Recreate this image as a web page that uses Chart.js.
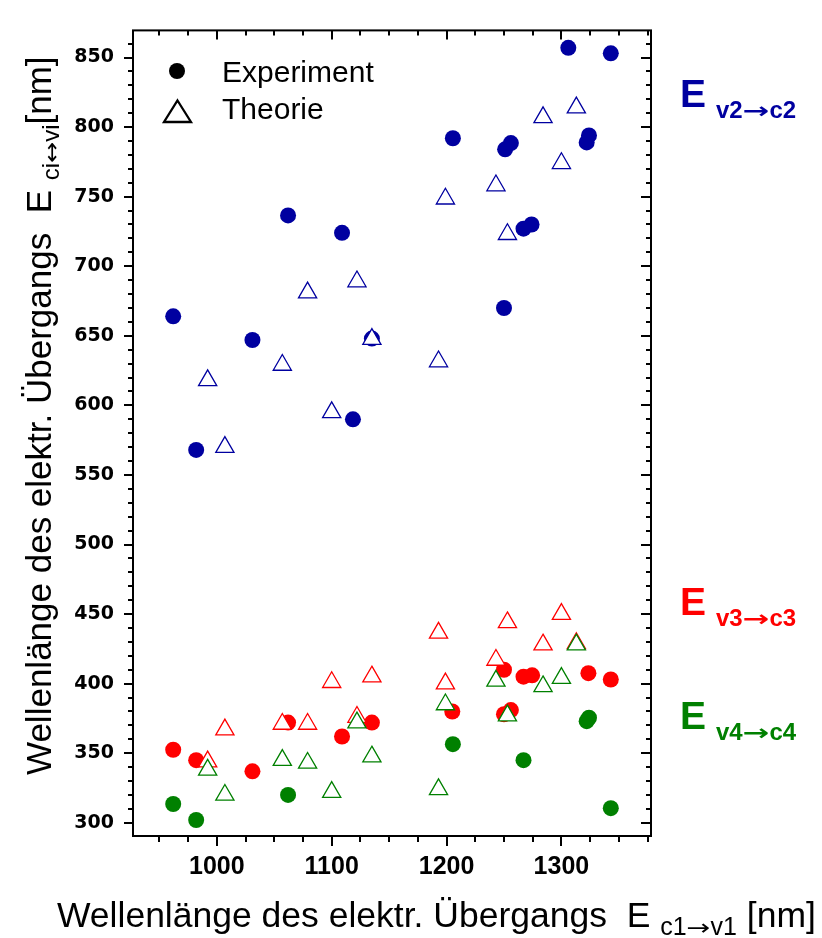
<!DOCTYPE html>
<html>
<head>
<meta charset="utf-8">
<script src="https://cdn.jsdelivr.net/npm/chart.js@4.4.1/dist/chart.umd.min.js"></script>
<style>
  html, body { margin: 0; padding: 0; background: #fff; }
</style>
</head>
<body>
<canvas id="chart" width="822" height="938"></canvas>
<script>
// ---- data: transition wavelengths in nm ----
// measured (Experiment), x = E c1->v1
const expV2X = [962, 982, 1031, 1062, 1109, 1118.5, 1135, 1205.5, 1250, 1251, 1256, 1267, 1274, 1306, 1322, 1324, 1343];
const expV2Y = [664, 568, 647, 736.5, 724, 590, 648, 792, 670, 784, 788.5, 727, 730, 857, 789, 794, 853];
const expV3X = [962, 982, 1031, 1062, 1109, 1135, 1205, 1250, 1250, 1256, 1267, 1274.5, 1323.5, 1343];
const expV3Y = [352.5, 345, 337, 372, 362, 372, 380, 410, 378, 381, 405, 406, 407.5, 403];
const expV4X = [962, 982, 1062, 1205.5, 1267, 1322, 1324, 1343];
const expV4Y = [313.5, 302, 320, 356.5, 345, 373, 375.5, 310.5];

// calculated (Theorie), shared x values
const theoryX  = [992, 1007, 1057, 1079, 1100, 1122, 1135, 1193, 1199, 1243, 1253, 1284, 1300, 1313];
const theoryV2 = [618, 570, 629, 681, 595, 689, 647.6, 631.5, 748.5, 758, 723, 807, 774, 814];
const theoryV3 = [344, 367, 371, 371, 401, 376, 405, 436.5, 400, 417, 444, 428, 450, 429];
const theoryV4 = [338, 320, 345, 343, 322, 372, 347.5, 324, 385, 402, 377, 398, 404, 428];

const xTicks = [1000, 1100, 1200, 1300];
const yTicks = [300, 350, 400, 450, 500, 550, 600, 650, 700, 750, 800, 850];

const BLUE = '#0000a0', RED = '#ff0000', GREEN = '#008000';
const pts = (xs, ys) => xs.map((x, i) => ({ x: x, y: ys[i] }));

function expSet(label, xs, ys, color, order) {
  return { label, data: pts(xs, ys), order, pointStyle: 'circle', pointRadius: 8,
    pointBackgroundColor: color, pointBorderWidth: 0, showLine: false };
}
function theorySet(label, ys, color, order) {
  return { label, data: pts(theoryX, ys), order, pointStyle: 'triangle', pointRadius: 10.5,
    pointBackgroundColor: '#fff', pointBorderColor: color, pointBorderWidth: 1.3, showLine: false };
}

// axis frame with major/minor ticks (left+bottom outward, top+right inward)
const frame = {
  id: 'frame',
  afterDatasetsDraw(chart) {
    const { ctx, chartArea: a, scales: { x, y } } = chart;
    ctx.save();
    ctx.strokeStyle = '#000';
    ctx.lineWidth = 2;
    ctx.beginPath();
    for (let v = 950; v <= 1375; v += 25) {
      const px = Math.round(x.getPixelForValue(v));
      const major = v % 100 === 0;
      ctx.moveTo(px, a.bottom); ctx.lineTo(px, a.bottom + (major ? 10 : 6));
      ctx.moveTo(px, a.top); ctx.lineTo(px, a.top + (major ? 9 : 5));
    }
    for (let v = 300; v <= 860; v += 10) {
      const py = Math.round(y.getPixelForValue(v));
      const major = v % 50 === 0;
      ctx.moveTo(a.left, py); ctx.lineTo(a.left - (major ? 9 : 5), py);
      ctx.moveTo(a.right, py); ctx.lineTo(a.right - (major ? 10 : 5), py);
    }
    ctx.stroke();
    ctx.strokeRect(a.left, a.top, a.right - a.left, a.bottom - a.top);
    ctx.restore();
  }
};

// text runs with subscripts; sx stretches a run horizontally (long arrows)
function richText(ctx, parts, x, y) {
  let cx = x;
  parts.forEach(p => {
    const sx = p.sx || 1;
    ctx.font = p.font;
    ctx.save();
    ctx.translate(cx, y + (p.dy || 0));
    ctx.scale(sx, 1);
    ctx.fillText(p.text, 0, 0);
    ctx.restore();
    cx += ctx.measureText(p.text).width * sx;
  });
}

const ARROW_FONT = 'px "DejaVu Sans", sans-serif';

const labels = {
  id: 'labels',
  afterDraw(chart) {
    const ctx = chart.ctx;
    ctx.save();
    ctx.textBaseline = 'alphabetic';
    ctx.textAlign = 'left';
    ctx.fillStyle = '#000';

    const fam = ' "Liberation Sans", Arial, sans-serif';
    // x axis title
    richText(ctx, [
      { text: 'Wellenlänge des elektr. Übergangs  E ', font: '35.5px' + fam },
      { text: 'c1', font: '25px' + fam, dy: 8 },
      { text: '→', font: '22' + ARROW_FONT, dy: 8, sx: 1.3 },
      { text: 'v1', font: '25px' + fam, dy: 8 },
      { text: ' [nm]', font: '35.5px' + fam }
    ], 57, 927);
    // y axis title
    ctx.save();
    ctx.translate(51, 775);
    ctx.rotate(-Math.PI / 2);
    richText(ctx, [
      { text: 'Wellenlänge des elektr. Übergangs  E ', font: '35px' + fam },
      { text: 'ci', font: '24px' + fam, dy: 8 },
      { text: '↔', font: '21' + ARROW_FONT, dy: 8, sx: 1.2 },
      { text: 'vi', font: '24px' + fam, dy: 8 },
      { text: '[nm]', font: '35px' + fam }
    ], 0, 0);
    ctx.restore();

    // transition names on the right
    [['v2', 'c2', BLUE, 107], ['v3', 'c3', RED, 615], ['v4', 'c4', GREEN, 729]].forEach(([a, b, c, base]) => {
      ctx.fillStyle = c;
      richText(ctx, [{ text: 'E', font: 'bold 39px' + fam }], 680, base);
      richText(ctx, [
        { text: a, font: 'bold 24px' + fam },
        { text: '→', font: 'bold 22' + ARROW_FONT, sx: 1.45 },
        { text: b, font: 'bold 24px' + fam }
      ], 716, base + 11);
    });

    // legend
    ctx.fillStyle = '#000';
    ctx.beginPath();
    ctx.arc(177, 71, 8, 0, Math.PI * 2);
    ctx.fill();
    ctx.strokeStyle = '#000';
    ctx.lineWidth = 2.3;
    ctx.beginPath();
    ctx.moveTo(177.5, 100.5);
    ctx.lineTo(191, 122);
    ctx.lineTo(164, 122);
    ctx.closePath();
    ctx.stroke();
    ctx.font = '30px' + fam;
    ctx.textBaseline = 'middle';
    ctx.fillText('Experiment', 222, 74);
    ctx.fillText('Theorie', 222, 111);
    ctx.restore();
  }
};

new Chart(document.getElementById('chart'), {
  type: 'scatter',
  data: {
    datasets: [
      theorySet('Theorie v4→c4', theoryV4, GREEN, 1),
      theorySet('Theorie v3→c3', theoryV3, RED, 2),
      theorySet('Theorie v2→c2', theoryV2, BLUE, 3),
      expSet('Experiment v4→c4', expV4X, expV4Y, GREEN, 4),
      expSet('Experiment v3→c3', expV3X, expV3Y, RED, 5),
      expSet('Experiment v2→c2', expV2X, expV2Y, BLUE, 6)
    ]
  },
  options: {
    responsive: false,
    animation: false,
    layout: { padding: { left: 0, right: 171, top: 12, bottom: 0 } },
    plugins: { legend: { display: false }, tooltip: { enabled: false } },
    scales: {
      x: {
        type: 'linear', position: 'bottom', min: 927, max: 1378,
        grid: { display: false, drawTicks: false }, border: { display: false },
        afterBuildTicks: s => { s.ticks = xTicks.map(v => ({ value: v })); },
        afterFit: s => { s.height = 102; },
        ticks: { autoSkip: false, maxRotation: 0, padding: 16, color: '#000',
          font: { family: '"Liberation Sans", Arial, sans-serif', size: 25, weight: 'bold' },
          callback: v => String(v) }
      },
      y: {
        type: 'linear', position: 'left', min: 290.5, max: 869.5,
        grid: { display: false, drawTicks: false }, border: { display: false },
        afterBuildTicks: s => { s.ticks = yTicks.map(v => ({ value: v })); },
        afterFit: s => { s.width = 133; },
        ticks: { autoSkip: false, padding: 19, color: '#000',
          font: { family: '"DejaVu Sans", sans-serif', size: 19, weight: 'bold' },
          callback: v => String(v) }
      }
    }
  },
  plugins: [frame, labels]
});
</script>
</body>
</html>
